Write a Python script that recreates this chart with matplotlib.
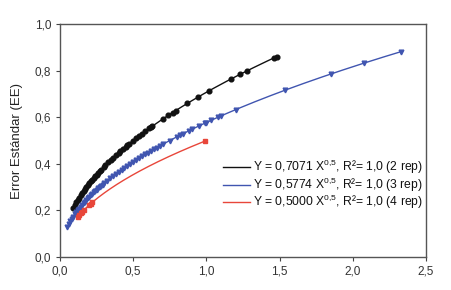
import numpy as np
import matplotlib
matplotlib.use("Agg")
import matplotlib.pyplot as plt
from matplotlib.ticker import FuncFormatter

plt.rcParams['font.family'] = ['Liberation Sans', 'DejaVu Sans']
plt.rcParams['mathtext.fontset'] = 'custom'
plt.rcParams['mathtext.rm'] = 'Liberation Sans'
plt.rcParams['mathtext.it'] = 'Liberation Sans'

# datos
x_2rep = [0.09, 0.10, 0.11, 0.12, 0.13, 0.14, 0.15, 0.16, 0.17, 0.18, 0.19, 0.20,
          0.21, 0.22, 0.23, 0.24, 0.25, 0.26, 0.27, 0.28, 0.30, 0.31, 0.33, 0.35,
          0.36, 0.38, 0.40, 0.41, 0.43, 0.45, 0.46, 0.47, 0.50, 0.52, 0.54, 0.56,
          0.58, 0.61, 0.62, 0.63, 0.70, 0.74, 0.77, 0.79, 0.87, 0.94, 1.02, 1.17,
          1.23, 1.28, 1.46, 1.48]
y_2rep = [0.212, 0.224, 0.235, 0.245, 0.255, 0.265, 0.274, 0.283, 0.292, 0.300,
          0.308, 0.316, 0.324, 0.332, 0.339, 0.346, 0.354, 0.361, 0.367, 0.374,
          0.387, 0.394, 0.406, 0.418, 0.424, 0.436, 0.447, 0.453, 0.464, 0.474,
          0.480, 0.485, 0.500, 0.510, 0.520, 0.529, 0.539, 0.552, 0.557, 0.561,
          0.592, 0.608, 0.620, 0.628, 0.660, 0.686, 0.714, 0.765, 0.784, 0.800,
          0.854, 0.860]

x_3rep = [0.05, 0.06, 0.07, 0.08, 0.09, 0.10, 0.11, 0.12, 0.13, 0.14, 0.15, 0.16,
          0.17, 0.18, 0.19, 0.20, 0.21, 0.22, 0.23, 0.24, 0.25, 0.26, 0.27, 0.28,
          0.29, 0.30, 0.32, 0.34, 0.36, 0.38, 0.40, 0.42, 0.44, 0.46, 0.48, 0.50,
          0.52, 0.54, 0.56, 0.58, 0.60, 0.62, 0.64, 0.66, 0.68, 0.70, 0.75, 0.80,
          0.82, 0.84, 0.88, 0.90, 0.95, 0.99, 1.00, 1.03, 1.08, 1.10, 1.20, 1.54,
          1.85, 2.08, 2.33]
y_3rep = [0.129, 0.141, 0.153, 0.163, 0.173, 0.183, 0.192, 0.200, 0.208, 0.216,
          0.224, 0.231, 0.238, 0.245, 0.252, 0.258, 0.265, 0.271, 0.277, 0.283,
          0.289, 0.294, 0.300, 0.306, 0.311, 0.316, 0.327, 0.337, 0.346, 0.356,
          0.365, 0.374, 0.383, 0.392, 0.400, 0.408, 0.416, 0.424, 0.432, 0.440,
          0.447, 0.455, 0.462, 0.469, 0.476, 0.483, 0.500, 0.516, 0.523, 0.529,
          0.542, 0.548, 0.563, 0.575, 0.577, 0.586, 0.600, 0.606, 0.632, 0.717,
          0.785, 0.833, 0.881]

x_4rep = [0.12, 0.13, 0.14, 0.15, 0.16, 0.20, 0.21, 0.22, 0.99]
y_4rep = [0.173, 0.180, 0.187, 0.194, 0.200, 0.224, 0.229, 0.235, 0.497]

labels = ['Y = 0,7071 X$^{0{,}5}$, R\u00b2= 1,0 (2 rep)',
          'Y = 0,5774 X$^{0{,}5}$, R\u00b2= 1,0 (3 rep)',
          'Y = 0,5000 X$^{0{,}5}$, R\u00b2= 1,0 (4 rep)']
colores = ['#111111', '#4055b0', '#e8463a']
marcas = ['o', 'v', 's']

fig = plt.figure(figsize=(4.52, 2.90), dpi=100)
ax = fig.add_axes([0.133, 0.114, 0.809, 0.803])

series = [(x_2rep, y_2rep), (x_3rep, y_3rep), (x_4rep, y_4rep)]
for (xs, ys), lab, c, m in zip(series, labels, colores, marcas):
    xs = np.array(xs)
    ys = np.array(ys)
    # linea de tendencia potencial ajustada a los puntos
    b, loga = np.polyfit(np.log(xs), np.log(ys), 1)
    xf = np.linspace(xs.min(), xs.max(), 200)
    ax.plot(xf, np.exp(loga) * xf ** b, color=c, lw=1.0, label=lab, zorder=2)
    ax.plot(xs, ys, linestyle='none', marker=m, ms=3.4, color=c, zorder=3)

ax.set_xlim(0, 2.5)
ax.set_ylim(0, 1.0)
ax.set_xticks(np.arange(0, 2.51, 0.5))
ax.set_yticks(np.arange(0, 1.01, 0.2))
fmt1 = FuncFormatter(lambda v, p: ('%.1f' % v).replace('.', ','))
ax.xaxis.set_major_formatter(fmt1)
ax.yaxis.set_major_formatter(fmt1)
ax.tick_params(direction='out', length=3, width=0.8, labelsize=8.5,
               colors='#444444', labelcolor='#333333')
for sp in ax.spines.values():
    sp.set_color('#555555')
    sp.set_linewidth(1.0)

ax.set_ylabel('Error Est\u00e1ndar (EE)', fontsize=9.5, color='#222222', labelpad=8)

leg = ax.legend(loc='center right', bbox_to_anchor=(1.01, 0.31), frameon=False,
                fontsize=8.7, handlelength=2.3, handletextpad=0.25,
                labelspacing=-0.05, borderaxespad=0.1)
for t in leg.get_texts():
    t.set_color('#111111')

fig.savefig('out.png', dpi=100)
